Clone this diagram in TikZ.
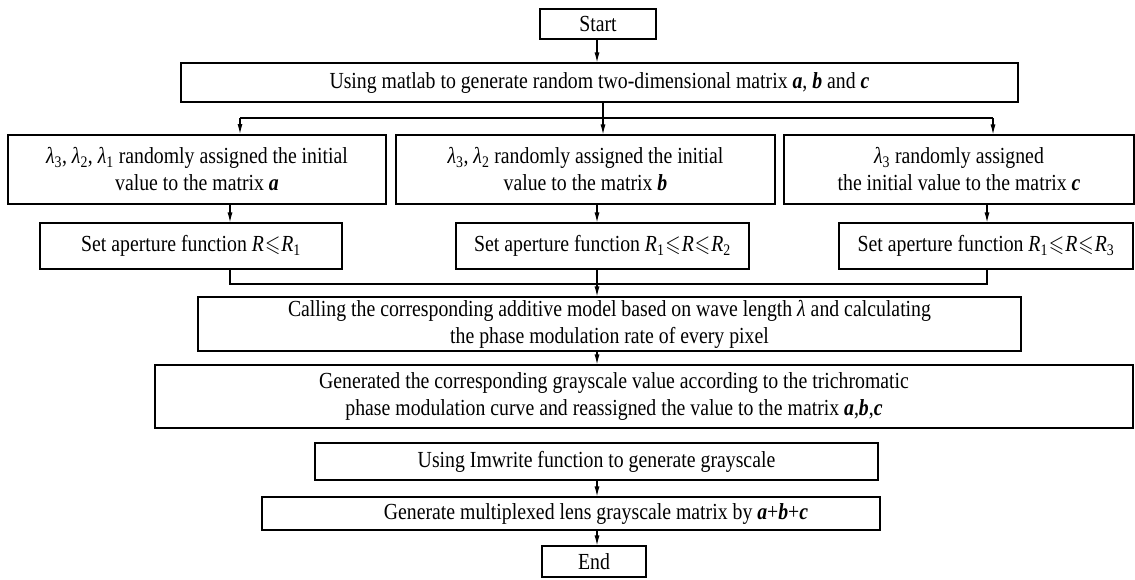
\documentclass[tikz,border=0pt]{standalone}
\usepackage{amssymb}
\usepackage{fontspec}
\setmainfont{Liberation Serif}[FakeStretch=0.86]
\usetikzlibrary{arrows.meta}
\newcommand{\lam}[1]{\textit{λ}\textsubscript{#1}}
\newcommand{\bi}[1]{\textbf{\textit{#1}}}
\newcommand{\lsl}{\kern1pt\scalebox{0.86}[1]{$\leqslant$}\kern1pt}
\begin{document}
\begin{tikzpicture}[x=1pt,y=-1pt,
  box/.style={draw, line width=1.1pt, inner sep=0pt, align=center,
    font=\fontsize{23}{27}\selectfont},
  arr/.style={line width=1.1pt, -{Latex[length=10pt,width=5pt]}},
  ln/.style={line width=1.1pt}]
\useasboundingbox (0,0) rectangle (1135,579);
% boxes: centre, width, height
\node[box, minimum width=116, minimum height=30] (start) at (598,24) {Start};
\node[box, minimum width=837, minimum height=39] (gen) at (599.5,82.5)
  {Using matlab to generate random two-dimensional matrix \bi{a}, \bi{b} and \bi{c}};
\node[box, line width=2pt, minimum width=378, minimum height=69] (ma) at (197,169.5)
  {\lam{3}, \lam{2}, \lam{1} randomly assigned the initial\\value to the matrix \bi{a}};
\node[box, minimum width=379, minimum height=69] (mb) at (585.5,169.5)
  {\lam{3}, \lam{2} randomly assigned the initial\\value to the matrix \bi{b}};
\node[box, minimum width=350, minimum height=69] (mc) at (959,169.5)
  {\lam{3} randomly assigned\\the initial value to the matrix \bi{c}};
\node[box, minimum width=302, minimum height=46] (ra) at (191,246)
  {Set aperture function \textit{R}\lsl\textit{R}\textsubscript{1}};
\node[box, minimum width=293, minimum height=46] (rb) at (602.5,246)
  {Set aperture function \textit{R}\textsubscript{1}\lsl\textit{R}\lsl\textit{R}\textsubscript{2}};
\node[box, minimum width=294, minimum height=46] (rc) at (986,246)
  {Set aperture function \textit{R}\textsubscript{1}\lsl\textit{R}\lsl\textit{R}\textsubscript{3}};
\node[box, minimum width=823, minimum height=54] (call) at (609.5,324)
  {Calling the corresponding additive model based on wave length \textit{λ} and calculating\\the phase modulation rate of every pixel};
\node[box, minimum width=978, minimum height=63] (grey) at (644,396.5)
  {\hspace*{-60pt}Generated the corresponding grayscale value according to the trichromatic\\\hspace*{-60pt}phase modulation curve and reassigned the value to the matrix \bi{a},\bi{b},\bi{c}};
\node[box, minimum width=563, minimum height=37] (imw) at (596.5,461.5)
  {Using Imwrite function to generate grayscale};
\node[box, minimum width=618, minimum height=33] (mult) at (571,513.5)
  {\hspace*{50pt}Generate multiplexed lens grayscale matrix by \bi{a}+\bi{b}+\bi{c}};
\node[box, minimum width=104, minimum height=31] (end) at (594,561.5) {End};
% connectors
\draw[arr] (start.south -| 597,0) -- (gen.north -| 597,0);
\draw[arr] (gen.south -| 603,0) -- (mb.north -| 603,0);
\draw[ln] (240,118) -- (993,118);
\draw[arr] (240,118) -- (ma.north -| 240,0);
\draw[arr] (993,118) -- (mc.north -| 993,0);
\draw[arr] (ma.south -| 230,0) -- (ra.north -| 230,0);
\draw[arr] (mb.south -| 597,0) -- (rb.north -| 597,0);
\draw[arr] (mc.south -| 987,0) -- (rc.north -| 987,0);
\draw[ln] (ra.south -| 230,0) |- (597,284);
\draw[ln] (rc.south -| 987,0) |- (597,284);
\draw[arr] (rb.south -| 597,0) -- (call.north -| 597,0);
\draw[arr] (call.south -| 597,0) -- (grey.north -| 597,0);
\draw[arr] (imw.south -| 597,0) -- (mult.north -| 597,0);
\draw[arr] (mult.south -| 597,0) -- (end.north -| 597,0);
\end{tikzpicture}
\end{document}
